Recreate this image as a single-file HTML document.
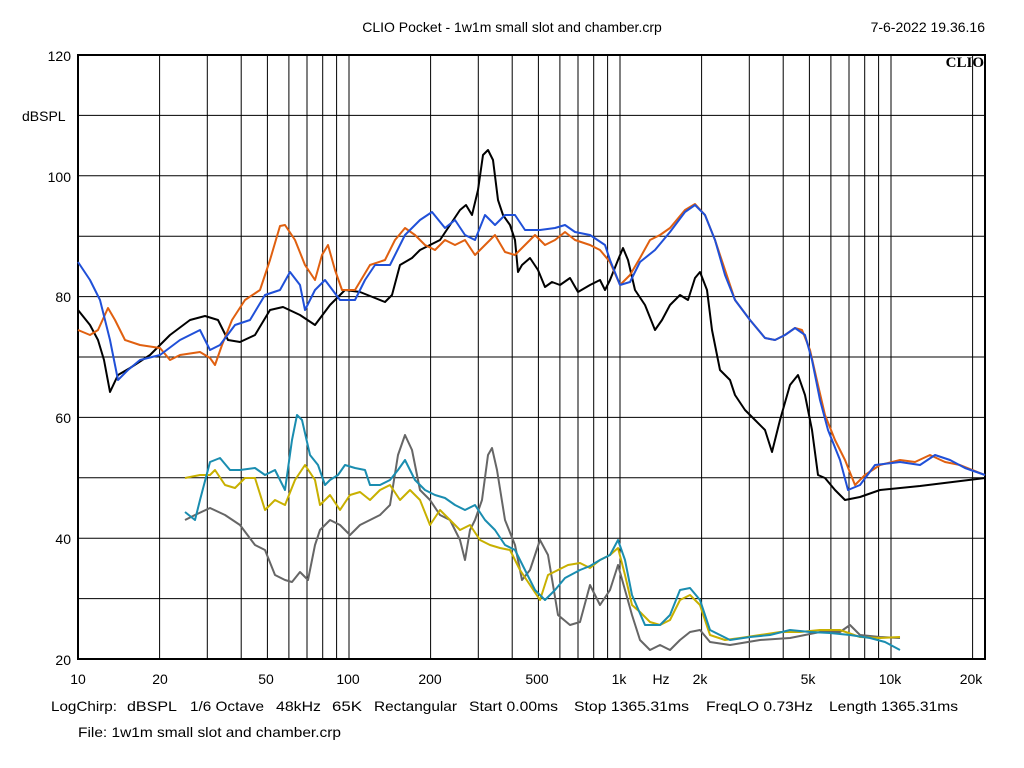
<!DOCTYPE html><html><head><style>body{margin:0;background:#fff;width:1024px;height:768px;overflow:hidden}svg{display:block}text{font-family:"Liberation Sans",sans-serif;font-size:14px;fill:#000}</style></head><body>
<svg id="s" width="1024" height="768" xmlns="http://www.w3.org/2000/svg">
<text x="512" y="32" text-anchor="middle">CLIO Pocket - 1w1m small slot and chamber.crp</text>
<text x="985" y="32" text-anchor="end">7-6-2022 19.36.16</text>
<g id="grid" stroke="#000" stroke-width="1"></g>
<rect x="78" y="55" width="907" height="604" fill="none" stroke="#000" stroke-width="2"/>
<text x="984" y="67" text-anchor="end" style="font-family:'Liberation Serif',serif;font-weight:bold;font-size:15px">CLIO</text>
<text x="71" y="61" text-anchor="end">120</text><text x="22" y="121">dBSPL</text>
<text x="71" y="182" text-anchor="end">100</text><text x="71" y="302" text-anchor="end">80</text>
<text x="71" y="423" text-anchor="end">60</text><text x="71" y="544" text-anchor="end">40</text>
<text x="71" y="665" text-anchor="end">20</text>
<g text-anchor="middle"><text x="78" y="684">10</text><text x="160" y="684">20</text><text x="266" y="684">50</text><text x="348" y="684">100</text><text x="430" y="684">200</text><text x="537" y="684">500</text><text x="619" y="684">1k</text><text x="661" y="684">Hz</text><text x="700" y="684">2k</text><text x="808" y="684">5k</text><text x="890" y="684">10k</text><text x="971" y="684">20k</text></g>
<g>
<text x="51" y="711" textLength="66" lengthAdjust="spacingAndGlyphs">LogChirp:</text>
<text x="127" y="711" textLength="50" lengthAdjust="spacingAndGlyphs">dBSPL</text>
<text x="190" y="711" textLength="74" lengthAdjust="spacingAndGlyphs">1/6 Octave</text>
<text x="276" y="711" textLength="45" lengthAdjust="spacingAndGlyphs">48kHz</text>
<text x="332" y="711" textLength="30" lengthAdjust="spacingAndGlyphs">65K</text>
<text x="374" y="711" textLength="83" lengthAdjust="spacingAndGlyphs">Rectangular</text>
<text x="469" y="711" textLength="89" lengthAdjust="spacingAndGlyphs">Start 0.00ms</text>
<text x="574" y="711" textLength="115" lengthAdjust="spacingAndGlyphs">Stop 1365.31ms</text>
<text x="706" y="711" textLength="107" lengthAdjust="spacingAndGlyphs">FreqLO 0.73Hz</text>
<text x="829" y="711" textLength="129" lengthAdjust="spacingAndGlyphs">Length 1365.31ms</text>
</g>
<text x="78" y="737" textLength="263" lengthAdjust="spacingAndGlyphs">File: 1w1m small slot and chamber.crp</text>
<g fill="none" stroke-width="2" stroke-linejoin="round">
<polyline stroke="#666" points="185,520 195,515 210,508 225,515 240,525 255,545 265,550 275,575 285,580 292,582 300,572 308,580 315,545 320,530 330,520 340,525 350,535 360,525 370,520 380,515 390,505 398,455 405,435 412,450 420,490 430,500 440,515 450,520 460,540 465,560 470,530 475,520 482,500 488,455 492,448 497,470 505,520 515,545 522,580 530,570 540,540 548,555 558,615 570,625 580,622 590,585 600,605 610,590 618,565 625,590 632,615 640,640 650,650 660,645 670,650 680,640 690,632 700,630 710,642 730,645 760,640 790,638 820,632 840,632 850,625 860,635 880,637 900,638"/>
<polyline stroke="#c8b000" points="185,478 200,475 210,475 215,470 225,485 235,488 245,478 255,478 265,510 275,500 285,505 295,480 305,465 315,480 320,505 330,495 340,510 350,495 360,492 370,500 380,490 390,485 400,500 410,490 420,500 430,525 440,510 450,520 460,530 470,525 480,540 490,545 500,548 510,550 520,570 530,585 540,600 548,575 558,570 568,565 580,563 590,568 600,560 610,555 618,548 625,575 632,605 640,612 650,622 660,625 670,620 680,600 690,595 700,605 710,635 725,640 740,638 760,635 780,632 800,632 820,630 840,630 860,637 880,638 900,637"/>
<polyline stroke="#1a8db0" points="185,512 195,520 200,500 210,462 220,458 230,470 240,470 255,468 265,475 275,470 285,490 292,440 297,415 302,420 310,455 318,465 325,485 330,480 338,475 345,465 355,468 365,470 370,485 380,485 390,480 398,470 405,460 415,480 425,490 435,495 445,498 455,505 465,510 475,505 485,520 495,530 505,545 515,550 525,570 535,590 545,600 555,590 565,578 580,570 590,566 600,560 610,555 618,540 625,560 632,595 645,625 660,625 670,615 680,590 690,588 700,600 710,630 730,640 750,637 770,635 790,630 810,632 830,633 850,635 870,638 885,642 900,650"/>
<polyline stroke="#000" points="78,310 90,325 98,340 104,360 110,392 118,375 130,368 150,355 170,335 190,320 205,316 218,320 228,340 240,342 255,335 270,310 283,307 300,315 315,325 330,305 345,290 360,292 375,298 385,302 392,295 400,265 412,258 420,250 430,245 440,240 450,225 460,210 466,205 472,215 478,190 483,155 488,150 493,160 498,200 503,215 510,225 515,240 518,272 522,265 530,258 538,270 545,287 552,282 560,285 570,278 578,292 590,285 600,280 605,290 610,280 618,260 623,248 628,260 635,290 645,305 655,330 662,320 670,305 680,295 688,300 695,278 700,272 707,290 712,330 720,370 730,380 735,395 745,410 755,420 765,430 772,452 780,420 790,385 798,375 805,395 812,430 818,475 825,478 835,490 845,500 860,497 880,490 920,486 985,478"/>
<polyline stroke="#e06010" points="78,330 90,335 98,330 108,308 115,320 125,340 140,345 160,348 170,360 180,355 200,352 210,358 215,365 222,345 232,320 245,300 260,290 270,260 280,226 285,225 295,240 305,265 315,280 322,255 328,245 335,270 342,290 355,290 370,265 385,260 395,240 405,228 415,235 425,245 435,250 445,240 455,245 465,240 475,255 480,250 485,245 495,235 505,252 515,255 525,245 535,235 545,245 555,240 565,232 575,240 590,245 600,250 610,262 620,285 630,275 640,258 650,240 660,235 670,228 685,210 695,204 705,215 715,240 725,270 735,300 750,320 765,338 775,340 785,335 795,328 802,330 810,350 818,385 825,415 835,440 845,460 855,485 865,475 880,465 900,460 915,462 930,455 945,462 960,465 985,475"/>
<polyline stroke="#2050d8" points="78,262 90,280 100,300 110,340 118,380 128,370 140,360 160,355 180,340 200,330 210,350 220,345 235,325 250,320 265,295 280,290 290,272 300,285 305,310 315,290 325,280 340,300 355,300 365,280 375,265 390,265 405,235 420,220 432,212 445,228 455,220 465,235 475,240 485,215 495,225 505,215 515,215 525,230 540,230 555,228 565,225 575,232 590,235 605,245 610,260 620,285 630,282 640,262 655,250 670,232 685,212 695,205 705,215 715,240 725,275 735,300 750,320 765,338 775,340 785,335 795,328 805,335 812,360 820,400 828,430 840,460 848,490 860,485 875,465 900,462 920,465 935,455 950,460 965,468 985,475"/>
</g>
</svg>
<script>
var g=document.getElementById('grid'),h='';
for(var d=10;d<=10000;d*=10)for(var m=1;m<10;m++){var f=d*m;if(f>20000)break;var x=78+271*Math.log10(f/10);if(x>78&&x<985)h+='<line x1="'+x.toFixed(1)+'" y1="55" x2="'+x.toFixed(1)+'" y2="659"/>';}
for(var i=1;i<10;i++){var y=55+i*60.4;h+='<line x1="78" y1="'+y+'" x2="985" y2="'+y+'"/>';}
g.innerHTML=h;
</script>
</body></html>
